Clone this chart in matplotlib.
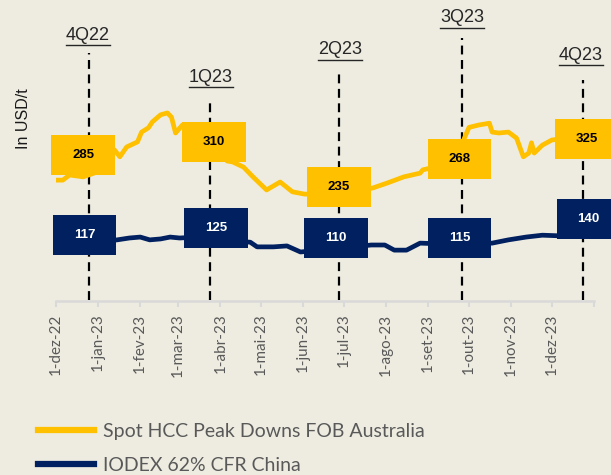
import pandas as pd
import matplotlib.pyplot as plt
from matplotlib.patches import Rectangle
from matplotlib.lines import Line2D
import matplotlib.dates as mdates

# series (USD/t)
hcc_dates = ["2022-12-01", "2022-12-06", "2022-12-11", "2022-12-21", "2022-12-30", "2023-01-07",
             "2023-01-13", "2023-01-17", "2023-01-22", "2023-01-30", "2023-02-02", "2023-02-07",
             "2023-02-10", "2023-02-16", "2023-02-21", "2023-02-24", "2023-02-27", "2023-03-04",
             "2023-03-15", "2023-03-25", "2023-04-06", "2023-04-10", "2023-04-18", "2023-04-25",
             "2023-05-05", "2023-05-15", "2023-05-24", "2023-06-02", "2023-06-20", "2023-07-05",
             "2023-07-22", "2023-08-02", "2023-08-14", "2023-08-26", "2023-08-28", "2023-09-10",
             "2023-09-20", "2023-09-27", "2023-10-01", "2023-10-08", "2023-10-16", "2023-10-18",
             "2023-10-23", "2023-10-30", "2023-11-05", "2023-11-10", "2023-11-14", "2023-11-16",
             "2023-11-18", "2023-11-24", "2023-12-01", "2023-12-15", "2023-12-31"]
hcc_values = [259, 259, 270, 266, 275, 300,
              324, 309, 330, 341, 362, 371,
              384, 399, 403, 394, 360, 377,
              370, 340, 300, 298, 287, 266,
              238, 255, 234, 229, 230, 236,
              242, 253, 266, 274, 281, 290,
              315, 345, 372, 377, 381, 362,
              360, 362, 349, 309, 317, 339,
              317, 334, 345, 350, 355]

iodex_dates = ["2022-12-01", "2022-12-20", "2023-01-05", "2023-01-15", "2023-01-24", "2023-02-01",
               "2023-02-08", "2023-02-16", "2023-02-23", "2023-03-02", "2023-03-15", "2023-04-05",
               "2023-04-23", "2023-04-28", "2023-05-10", "2023-05-20", "2023-05-30", "2023-06-15",
               "2023-07-05", "2023-07-21", "2023-07-31", "2023-08-07", "2023-08-16", "2023-08-26",
               "2023-09-15", "2023-10-18", "2023-10-30", "2023-11-12", "2023-11-24", "2023-12-13",
               "2023-12-31"]
iodex_values = [114, 122, 128, 131, 135, 137,
                131, 133, 137, 135, 137, 130,
                126, 116, 116, 118, 105, 110,
                115, 120, 120, 109, 109, 124,
                122, 124, 131, 137, 141, 139,
                141]

# quarterly averages shown in the boxes
quarters = ["4Q22", "1Q23", "2Q23", "3Q23", "4Q23"]
quarter_dates = ["2022-12-25", "2023-03-24", "2023-06-27", "2023-09-26", "2023-12-24"]
hcc_avg = [285, 310, 235, 268, 325]
iodex_avg = [117, 125, 110, 115, 140]

month_ticks = ["2022-12-01", "2023-01-01", "2023-02-01", "2023-03-01", "2023-04-01", "2023-05-01",
               "2023-06-01", "2023-07-01", "2023-08-01", "2023-09-01", "2023-10-01", "2023-11-01",
               "2023-12-01"]
month_labels = ["1-dez-22", "1-jan-23", "1-fev-23", "1-mar-23", "1-abr-23", "1-mai-23", "1-jun-23",
                "1-jul-23", "1-ago-23", "1-set-23", "1-out-23", "1-nov-23", "1-dez-23"]

# layout of annotations (not data)
line_top = [531, 435, 495, 564, 474]
hcc_box_pos = [("2022-12-21", 313), ("2023-03-27", 341), ("2023-06-27", 244), ("2023-09-24", 304), ("2023-12-27", 347)]
iodex_box_pos = [("2022-12-22", 141), ("2023-03-29", 156), ("2023-06-25", 135), ("2023-09-24", 135), ("2023-12-28", 176)]
quarter_label_pos = [(88, 35), (211, 77), (340, 50), (462, 18), (581, 55)]  # pixel centres

BG = "#EEECE1"
YEL = "#FFC000"
NAVY = "#002060"
W, H = 611, 475

fig = plt.figure(figsize=(W / 100, H / 100), dpi=100, facecolor=BG)
ax = fig.add_axes([56 / W, 1 - 301 / H, 538 / W, 280 / H], facecolor=BG)

hd = pd.to_datetime(hcc_dates)
idd = pd.to_datetime(iodex_dates)
qd = pd.to_datetime(quarter_dates)

for d, top in zip(qd, line_top):
    ax.plot([d, d], [2, top], color="black", lw=1.6, ls=(0, (4, 2.5)), zorder=1)

l1, = ax.plot(hd, hcc_values, color=YEL, lw=3.4, zorder=2, label="Spot HCC Peak Downs FOB Australia")
l2, = ax.plot(idd, iodex_values, color=NAVY, lw=3.4, zorder=2, label="IODEX 62% CFR China")

box_w = pd.Timedelta(days=47)
box_h = 86
for (d, v), txt in zip(hcc_box_pos, hcc_avg):
    c = pd.Timestamp(d)
    x0 = mdates.date2num(c - box_w / 2)
    ax.add_patch(Rectangle((x0, v - box_h / 2), 47, box_h, facecolor=YEL, edgecolor="none",
                           zorder=3, clip_on=False))
    ax.text(c, v, str(txt), ha="center", va="center", fontsize=9.5, fontweight="bold",
            family="Liberation Sans", color="black", zorder=4, clip_on=False)
for (d, v), txt in zip(iodex_box_pos, iodex_avg):
    c = pd.Timestamp(d)
    x0 = mdates.date2num(c - box_w / 2)
    ax.add_patch(Rectangle((x0, v - box_h / 2), 47, box_h, facecolor=NAVY, edgecolor="none",
                           zorder=3, clip_on=False))
    ax.text(c, v, str(txt), ha="center", va="center", fontsize=9.5, fontweight="bold",
            family="Liberation Sans", color="white", zorder=4, clip_on=False)

ax.set_xlim(pd.Timestamp("2022-12-01"), pd.Timestamp("2024-01-01"))
ax.set_ylim(0, 600)
ax.set_xticks(pd.to_datetime(month_ticks + ["2024-01-01"]))
ax.set_xticklabels(month_labels + [""], rotation=90, family="Lato", fontsize=10.9, color="#595959")
ax.tick_params(axis="x", direction="out", length=4, width=1.5, color="#D9D9D9", pad=5)
ax.set_yticks([])
for s in ["left", "right", "top"]:
    ax.spines[s].set_visible(False)
ax.spines["bottom"].set_color("#D9D9D9")
ax.spines["bottom"].set_linewidth(1.8)

fig.text(23 / W, 1 - 119 / H, "In USD/t", rotation=90, ha="center", va="center",
         family="Liberation Sans", fontsize=11.5, color="#1a1a1a")

qtexts = []
for q, (px, py) in zip(quarters, quarter_label_pos):
    t = fig.text(px / W, 1 - py / H, q, ha="center", va="center", family="Liberation Sans",
                 fontsize=13, color="#262626")
    qtexts.append(t)

leg = fig.legend(handles=[l1, l2], loc="upper left", bbox_to_anchor=(38 / W, 1 - 423 / H),
                 frameon=False, prop={"family": "Lato", "size": 14}, labelcolor="#595959",
                 handlelength=2.9, handletextpad=0.45, labelspacing=0.85, borderpad=0, borderaxespad=0)
for ln in leg.get_lines():
    ln.set_linewidth(4.5)

# underline the quarter labels
fig.canvas.draw()
r = fig.canvas.get_renderer()
for t in qtexts:
    bb = t.get_window_extent(r)
    yline = bb.y0 - 1
    fig.add_artist(Line2D([bb.x0 / W, bb.x1 / W], [yline / H, yline / H], color="#262626", lw=1.0))

fig.savefig("out.png", dpi=100, facecolor=BG)
